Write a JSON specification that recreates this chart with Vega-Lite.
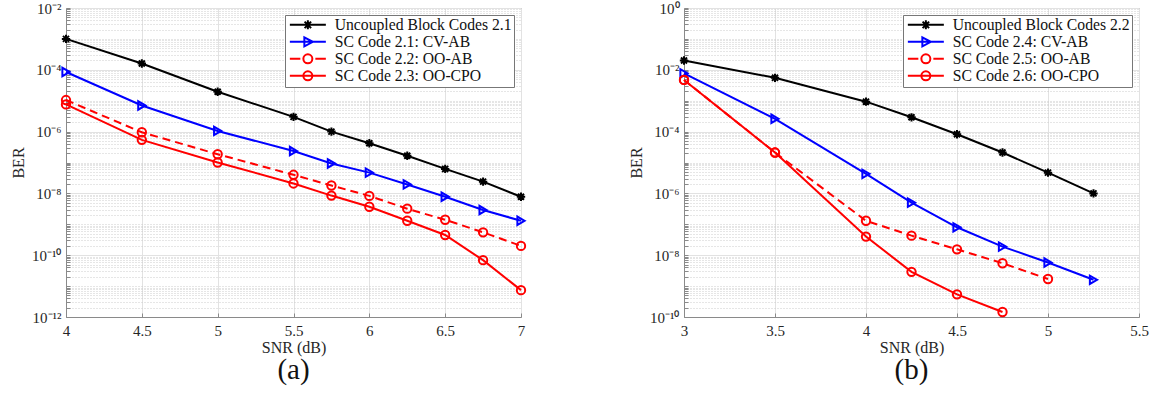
{
  "$schema": "https://vega.github.io/schema/vega-lite/v6.json",
  "padding": {"left": 10, "top": 0, "right": 5, "bottom": 0},
  "background": "white",
  "resolve": {
    "scale": {"color": "independent"},
    "legend": {"color": "independent"}
  },
  "config": {
    "font": "Liberation Serif",
    "view": {"stroke": "#8a8a8a", "strokeWidth": 1},
    "concat": {"spacing": 98},
    "axis": {
      "labelFont": "Liberation Serif",
      "titleFont": "Liberation Serif",
      "labelFontSize": 15,
      "titleFontSize": 16,
      "titleFontWeight": "normal",
      "labelColor": "#262626",
      "titleColor": "#262626",
      "domainColor": "#8a8a8a",
      "tickColor": "#8a8a8a",
      "labelOverlap": false,
      "labelFlush": false,
      "tickSize": -4,
      "gridWidth": 1
    },
    "axisX": {"labelPadding": 10, "titlePadding": 1, "gridColor": "#e2e2e2"},
    "axisY": {"labelPadding": 9, "titlePadding": 5},
    "title": {"font": "Liberation Serif", "fontWeight": "normal", "fontSize": 29, "color": "#111111"},
    "legend": {
      "title": null,
      "orient": "top-right",
      "offset": 7,
      "padding": 2,
      "strokeColor": "#777777",
      "fillColor": "white",
      "labelFont": "Liberation Serif",
      "labelFontSize": 15.7,
      "labelColor": "#111111",
      "labelLimit": 0,
      "symbolSize": 100,
      "symbolStrokeWidth": 2,
      "symbolOffset": 13,
      "labelOffset": 19,
      "rowPadding": -1
    }
  },
  "datasets": {
    "a": [
      {"snr": 4, "ber": 1.0e-3, "series": "Uncoupled Block Codes 2.1"},
      {"snr": 4.5, "ber": 1.6e-4, "series": "Uncoupled Block Codes 2.1"},
      {"snr": 5, "ber": 1.95e-5, "series": "Uncoupled Block Codes 2.1"},
      {"snr": 5.5, "ber": 3.0e-6, "series": "Uncoupled Block Codes 2.1"},
      {"snr": 5.75, "ber": 1.0e-6, "series": "Uncoupled Block Codes 2.1"},
      {"snr": 6, "ber": 4.2e-7, "series": "Uncoupled Block Codes 2.1"},
      {"snr": 6.25, "ber": 1.66e-7, "series": "Uncoupled Block Codes 2.1"},
      {"snr": 6.5, "ber": 6.2e-8, "series": "Uncoupled Block Codes 2.1"},
      {"snr": 6.75, "ber": 2.4e-8, "series": "Uncoupled Block Codes 2.1"},
      {"snr": 7, "ber": 7.8e-9, "series": "Uncoupled Block Codes 2.1"},
      {"snr": 4, "ber": 8.5e-5, "series": "SC Code 2.1: CV-AB"},
      {"snr": 4.5, "ber": 7.0e-6, "series": "SC Code 2.1: CV-AB"},
      {"snr": 5, "ber": 1.05e-6, "series": "SC Code 2.1: CV-AB"},
      {"snr": 5.5, "ber": 2.35e-7, "series": "SC Code 2.1: CV-AB"},
      {"snr": 5.75, "ber": 9.3e-8, "series": "SC Code 2.1: CV-AB"},
      {"snr": 6, "ber": 4.7e-8, "series": "SC Code 2.1: CV-AB"},
      {"snr": 6.25, "ber": 1.95e-8, "series": "SC Code 2.1: CV-AB"},
      {"snr": 6.5, "ber": 7.8e-9, "series": "SC Code 2.1: CV-AB"},
      {"snr": 6.75, "ber": 2.9e-9, "series": "SC Code 2.1: CV-AB"},
      {"snr": 7, "ber": 1.3e-9, "series": "SC Code 2.1: CV-AB"},
      {"snr": 4, "ber": 1.05e-5, "series": "SC Code 2.2: OO-AB"},
      {"snr": 4.5, "ber": 9.5e-7, "series": "SC Code 2.2: OO-AB"},
      {"snr": 5, "ber": 1.85e-7, "series": "SC Code 2.2: OO-AB"},
      {"snr": 5.5, "ber": 4.0e-8, "series": "SC Code 2.2: OO-AB"},
      {"snr": 5.75, "ber": 1.8e-8, "series": "SC Code 2.2: OO-AB"},
      {"snr": 6, "ber": 8.3e-9, "series": "SC Code 2.2: OO-AB"},
      {"snr": 6.25, "ber": 3.2e-9, "series": "SC Code 2.2: OO-AB"},
      {"snr": 6.5, "ber": 1.4e-9, "series": "SC Code 2.2: OO-AB"},
      {"snr": 6.75, "ber": 5.5e-10, "series": "SC Code 2.2: OO-AB"},
      {"snr": 7, "ber": 2.0e-10, "series": "SC Code 2.2: OO-AB"},
      {"snr": 4, "ber": 7.6e-6, "series": "SC Code 2.3: OO-CPO"},
      {"snr": 4.5, "ber": 5.4e-7, "series": "SC Code 2.3: OO-CPO"},
      {"snr": 5, "ber": 1.0e-7, "series": "SC Code 2.3: OO-CPO"},
      {"snr": 5.5, "ber": 2.1e-8, "series": "SC Code 2.3: OO-CPO"},
      {"snr": 5.75, "ber": 8.5e-9, "series": "SC Code 2.3: OO-CPO"},
      {"snr": 6, "ber": 3.7e-9, "series": "SC Code 2.3: OO-CPO"},
      {"snr": 6.25, "ber": 1.3e-9, "series": "SC Code 2.3: OO-CPO"},
      {"snr": 6.5, "ber": 4.5e-10, "series": "SC Code 2.3: OO-CPO"},
      {"snr": 6.75, "ber": 6.9e-11, "series": "SC Code 2.3: OO-CPO"},
      {"snr": 7, "ber": 7.4e-12, "series": "SC Code 2.3: OO-CPO"}
    ],
    "b": [
      {"snr": 3, "ber": 2.0e-2, "series": "Uncoupled Block Codes 2.2"},
      {"snr": 3.5, "ber": 5.5e-3, "series": "Uncoupled Block Codes 2.2"},
      {"snr": 4, "ber": 9.3e-4, "series": "Uncoupled Block Codes 2.2"},
      {"snr": 4.25, "ber": 2.9e-4, "series": "Uncoupled Block Codes 2.2"},
      {"snr": 4.5, "ber": 8.2e-5, "series": "Uncoupled Block Codes 2.2"},
      {"snr": 4.75, "ber": 2.1e-5, "series": "Uncoupled Block Codes 2.2"},
      {"snr": 5, "ber": 4.7e-6, "series": "Uncoupled Block Codes 2.2"},
      {"snr": 5.25, "ber": 1.0e-6, "series": "Uncoupled Block Codes 2.2"},
      {"snr": 3, "ber": 7.7e-3, "series": "SC Code 2.4: CV-AB"},
      {"snr": 3.5, "ber": 2.6e-4, "series": "SC Code 2.4: CV-AB"},
      {"snr": 4, "ber": 4.3e-6, "series": "SC Code 2.4: CV-AB"},
      {"snr": 4.25, "ber": 5.0e-7, "series": "SC Code 2.4: CV-AB"},
      {"snr": 4.5, "ber": 8.0e-8, "series": "SC Code 2.4: CV-AB"},
      {"snr": 4.75, "ber": 1.9e-8, "series": "SC Code 2.4: CV-AB"},
      {"snr": 5, "ber": 5.8e-9, "series": "SC Code 2.4: CV-AB"},
      {"snr": 5.25, "ber": 1.6e-9, "series": "SC Code 2.4: CV-AB"},
      {"snr": 3, "ber": 4.7e-3, "series": "SC Code 2.5: OO-AB"},
      {"snr": 3.5, "ber": 2.1e-5, "series": "SC Code 2.5: OO-AB"},
      {"snr": 4, "ber": 1.3e-7, "series": "SC Code 2.5: OO-AB"},
      {"snr": 4.25, "ber": 4.3e-8, "series": "SC Code 2.5: OO-AB"},
      {"snr": 4.5, "ber": 1.55e-8, "series": "SC Code 2.5: OO-AB"},
      {"snr": 4.75, "ber": 5.5e-9, "series": "SC Code 2.5: OO-AB"},
      {"snr": 5, "ber": 1.7e-9, "series": "SC Code 2.5: OO-AB"},
      {"snr": 3, "ber": 4.7e-3, "series": "SC Code 2.6: OO-CPO"},
      {"snr": 3.5, "ber": 2.1e-5, "series": "SC Code 2.6: OO-CPO"},
      {"snr": 4, "ber": 4.0e-8, "series": "SC Code 2.6: OO-CPO"},
      {"snr": 4.25, "ber": 2.9e-9, "series": "SC Code 2.6: OO-CPO"},
      {"snr": 4.5, "ber": 5.4e-10, "series": "SC Code 2.6: OO-CPO"},
      {"snr": 4.75, "ber": 1.45e-10, "series": "SC Code 2.6: OO-CPO"}
    ]
  },
  "hconcat": [
    {
      "width": 455,
      "height": 309,
      "title": {"text": "(a)", "orient": "bottom", "offset": 1},
      "data": {"name": "a"},
      "encoding": {
        "x": {
          "field": "snr", "type": "quantitative", "title": "SNR (dB)",
          "scale": {"domain": [4, 7], "nice": false, "zero": false},
          "axis": {"values": [4, 4.5, 5, 5.5, 6, 6.5, 7], "format": "~g"}
        },
        "y": {
          "field": "ber", "type": "quantitative", "title": "BER",
          "scale": {"type": "log", "domain": [1e-12, 1e-2], "nice": false},
          "axis": {
            "values": [1e-12, 2e-12, 3e-12, 4e-12, 5e-12, 6e-12, 7e-12, 8e-12, 9e-12,
                       1e-11, 2e-11, 3e-11, 4e-11, 5e-11, 6e-11, 7e-11, 8e-11, 9e-11,
                       1e-10, 2e-10, 3e-10, 4e-10, 5e-10, 6e-10, 7e-10, 8e-10, 9e-10,
                       1e-9, 2e-9, 3e-9, 4e-9, 5e-9, 6e-9, 7e-9, 8e-9, 9e-9,
                       1e-8, 2e-8, 3e-8, 4e-8, 5e-8, 6e-8, 7e-8, 8e-8, 9e-8,
                       1e-7, 2e-7, 3e-7, 4e-7, 5e-7, 6e-7, 7e-7, 8e-7, 9e-7,
                       1e-6, 2e-6, 3e-6, 4e-6, 5e-6, 6e-6, 7e-6, 8e-6, 9e-6,
                       1e-5, 2e-5, 3e-5, 4e-5, 5e-5, 6e-5, 7e-5, 8e-5, 9e-5,
                       1e-4, 2e-4, 3e-4, 4e-4, 5e-4, 6e-4, 7e-4, 8e-4, 9e-4,
                       1e-3, 2e-3, 3e-3, 4e-3, 5e-3, 6e-3, 7e-3, 8e-3, 9e-3, 1e-2],
            "labelExpr": "datum.value == 1e-2 ? '10⁻²' : datum.value == 1e-4 ? '10⁻⁴' : datum.value == 1e-6 ? '10⁻⁶' : datum.value == 1e-8 ? '10⁻⁸' : datum.value == 1e-10 ? '10⁻¹⁰' : datum.value == 1e-12 ? '10⁻¹²' : ''",
            "gridDash": {"condition": {"test": "indexof([1e-2, 1e-4, 1e-6, 1e-8, 1e-10, 1e-12], datum.value) < 0", "value": [1, 2]}, "value": []},
            "gridColor": {"condition": {"test": "indexof([1e-2, 1e-4, 1e-6, 1e-8, 1e-10, 1e-12], datum.value) < 0", "value": "#cccccc"}, "value": "#e2e2e2"}
          }
        }
      },
      "layer": [
        {
          "transform": [{"filter": "indexof(datum.series, 'OO-AB') < 0"}],
          "mark": {"type": "line", "strokeWidth": 2},
          "encoding": {
            "color": {
              "field": "series", "type": "nominal",
              "scale": {"domain": ["Uncoupled Block Codes 2.1", "SC Code 2.1: CV-AB", "SC Code 2.2: OO-AB", "SC Code 2.3: OO-CPO"], "range": ["#000000", "#0000ff", "#ff0000", "#ff0000"]},
              "legend": {
                "encode": {
                  "symbols": {
                    "update": {
                      "shape": {"signal": "indexof(datum.value, 'Uncoupled') >= 0 ? 'M-3.6,0H3.6M-0.9,0H0.9M0,-0.9V0.9M-0.65,-0.65L0.65,0.65M-0.65,0.65L0.65,-0.65' : indexof(datum.value, 'CV-AB') >= 0 ? 'M-3.6,0H3.6M-0.7,-0.9L1,0L-0.7,0.9Z' : indexof(datum.value, 'OO-AB') >= 0 ? 'M-3.6,0H-1.5M1.5,0H3.6M0.9,0A0.9,0.9,0,1,1,-0.9,0A0.9,0.9,0,1,1,0.9,0Z' : 'M-3.6,0H3.6M0.9,0A0.9,0.9,0,1,1,-0.9,0A0.9,0.9,0,1,1,0.9,0Z'"},
                      "fill": {"value": "transparent"},
                      "strokeDash": {"value": []}
                    }
                  }
                }
              }
            }
          }
        },
        {
          "transform": [{"filter": "indexof(datum.series, 'OO-AB') >= 0"}],
          "mark": {"type": "line", "strokeWidth": 2, "strokeDash": [8, 5], "color": "#ff0000"},
          "encoding": {}
        },
        {
          "transform": [{"filter": "indexof(datum.series, 'Uncoupled') >= 0"}],
          "mark": {"type": "point", "filled": false, "strokeWidth": 2, "size": 70, "opacity": 1, "color": "#000000",
                   "shape": "M-1,0H1M0,-1V1M-0.72,-0.72L0.72,0.72M-0.72,0.72L0.72,-0.72"}
        },
        {
          "transform": [{"filter": "indexof(datum.series, 'CV-AB') >= 0"}],
          "mark": {"type": "point", "filled": false, "strokeWidth": 2, "size": 70, "opacity": 1, "color": "#0000ff", "shape": "triangle-right"}
        },
        {
          "transform": [{"filter": "indexof(datum.series, 'OO-') >= 0"}],
          "mark": {"type": "point", "filled": false, "strokeWidth": 2, "size": 70, "opacity": 1, "color": "#ff0000", "shape": "circle"}
        }
      ]
    },
    {
      "width": 455,
      "height": 309,
      "title": {"text": "(b)", "orient": "bottom", "offset": 1},
      "data": {"name": "b"},
      "encoding": {
        "x": {
          "field": "snr", "type": "quantitative", "title": "SNR (dB)",
          "scale": {"domain": [3, 5.5], "nice": false, "zero": false},
          "axis": {"values": [3, 3.5, 4, 4.5, 5, 5.5], "format": "~g"}
        },
        "y": {
          "field": "ber", "type": "quantitative", "title": "BER",
          "scale": {"type": "log", "domain": [1e-10, 1], "nice": false},
          "axis": {
            "values": [1e-10, 2e-10, 3e-10, 4e-10, 5e-10, 6e-10, 7e-10, 8e-10, 9e-10,
                       1e-9, 2e-9, 3e-9, 4e-9, 5e-9, 6e-9, 7e-9, 8e-9, 9e-9,
                       1e-8, 2e-8, 3e-8, 4e-8, 5e-8, 6e-8, 7e-8, 8e-8, 9e-8,
                       1e-7, 2e-7, 3e-7, 4e-7, 5e-7, 6e-7, 7e-7, 8e-7, 9e-7,
                       1e-6, 2e-6, 3e-6, 4e-6, 5e-6, 6e-6, 7e-6, 8e-6, 9e-6,
                       1e-5, 2e-5, 3e-5, 4e-5, 5e-5, 6e-5, 7e-5, 8e-5, 9e-5,
                       1e-4, 2e-4, 3e-4, 4e-4, 5e-4, 6e-4, 7e-4, 8e-4, 9e-4,
                       1e-3, 2e-3, 3e-3, 4e-3, 5e-3, 6e-3, 7e-3, 8e-3, 9e-3,
                       1e-2, 2e-2, 3e-2, 4e-2, 5e-2, 6e-2, 7e-2, 8e-2, 9e-2,
                       1e-1, 2e-1, 3e-1, 4e-1, 5e-1, 6e-1, 7e-1, 8e-1, 9e-1, 1],
            "labelExpr": "datum.value == 1 ? '10⁰' : datum.value == 1e-2 ? '10⁻²' : datum.value == 1e-4 ? '10⁻⁴' : datum.value == 1e-6 ? '10⁻⁶' : datum.value == 1e-8 ? '10⁻⁸' : datum.value == 1e-10 ? '10⁻¹⁰' : ''",
            "gridDash": {"condition": {"test": "indexof([1, 1e-2, 1e-4, 1e-6, 1e-8, 1e-10], datum.value) < 0", "value": [1, 2]}, "value": []},
            "gridColor": {"condition": {"test": "indexof([1, 1e-2, 1e-4, 1e-6, 1e-8, 1e-10], datum.value) < 0", "value": "#cccccc"}, "value": "#e2e2e2"}
          }
        }
      },
      "layer": [
        {
          "transform": [{"filter": "indexof(datum.series, 'OO-AB') < 0"}],
          "mark": {"type": "line", "strokeWidth": 2},
          "encoding": {
            "color": {
              "field": "series", "type": "nominal",
              "scale": {"domain": ["Uncoupled Block Codes 2.2", "SC Code 2.4: CV-AB", "SC Code 2.5: OO-AB", "SC Code 2.6: OO-CPO"], "range": ["#000000", "#0000ff", "#ff0000", "#ff0000"]},
              "legend": {
                "encode": {
                  "symbols": {
                    "update": {
                      "shape": {"signal": "indexof(datum.value, 'Uncoupled') >= 0 ? 'M-3.6,0H3.6M-0.9,0H0.9M0,-0.9V0.9M-0.65,-0.65L0.65,0.65M-0.65,0.65L0.65,-0.65' : indexof(datum.value, 'CV-AB') >= 0 ? 'M-3.6,0H3.6M-0.7,-0.9L1,0L-0.7,0.9Z' : indexof(datum.value, 'OO-AB') >= 0 ? 'M-3.6,0H-1.5M1.5,0H3.6M0.9,0A0.9,0.9,0,1,1,-0.9,0A0.9,0.9,0,1,1,0.9,0Z' : 'M-3.6,0H3.6M0.9,0A0.9,0.9,0,1,1,-0.9,0A0.9,0.9,0,1,1,0.9,0Z'"},
                      "fill": {"value": "transparent"},
                      "strokeDash": {"value": []}
                    }
                  }
                }
              }
            }
          }
        },
        {
          "transform": [{"filter": "indexof(datum.series, 'OO-AB') >= 0"}],
          "mark": {"type": "line", "strokeWidth": 2, "strokeDash": [8, 5], "color": "#ff0000"},
          "encoding": {}
        },
        {
          "transform": [{"filter": "indexof(datum.series, 'Uncoupled') >= 0"}],
          "mark": {"type": "point", "filled": false, "strokeWidth": 2, "size": 70, "opacity": 1, "color": "#000000",
                   "shape": "M-1,0H1M0,-1V1M-0.72,-0.72L0.72,0.72M-0.72,0.72L0.72,-0.72"}
        },
        {
          "transform": [{"filter": "indexof(datum.series, 'CV-AB') >= 0"}],
          "mark": {"type": "point", "filled": false, "strokeWidth": 2, "size": 70, "opacity": 1, "color": "#0000ff", "shape": "triangle-right"}
        },
        {
          "transform": [{"filter": "indexof(datum.series, 'OO-') >= 0"}],
          "mark": {"type": "point", "filled": false, "strokeWidth": 2, "size": 70, "opacity": 1, "color": "#ff0000", "shape": "circle"}
        }
      ]
    }
  ]
}
